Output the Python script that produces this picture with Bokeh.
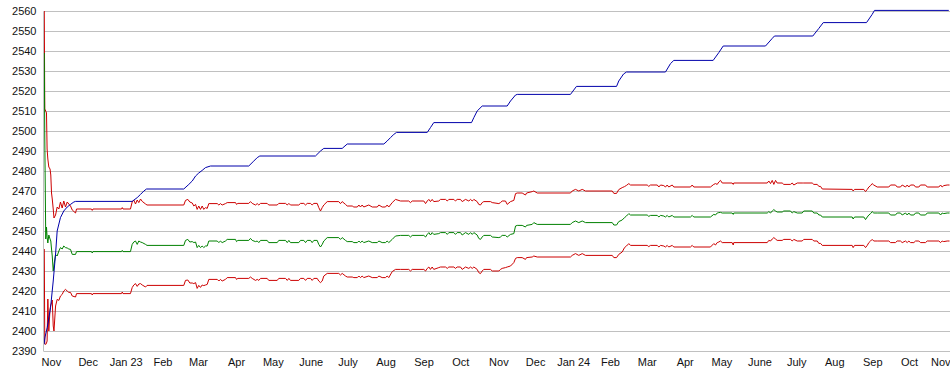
import pandas as pd
from bokeh.plotting import figure
from bokeh.models import Range1d, FixedTicker
from bokeh.embed import file_html
from bokeh.resources import INLINE

# ---------------- data ----------------
start_date = "2022-11-01"   # day 0 of the x axis

month_labels = ["Nov", "Dec", "Jan 23", "Feb", "Mar", "Apr", "May", "June", "July",
                "Aug", "Sep", "Oct", "Nov", "Dec", "Jan 24", "Feb", "Mar", "Apr",
                "May", "June", "July", "Aug", "Sep", "Oct", "Nov"]

y_ticks = list(range(2390, 2561, 10))

# staircase (blue) series: day since start, value
blue_day = [9.0, 9.8, 11.6, 14.3, 16.5, 18.4, 19.7, 22.4, 25.1, 27.9, 30.6, 33.3, 34.7,
            80.9, 85.0, 87.7, 90.4, 92.6, 123.0, 127.1, 129.9, 132.6, 135.2, 138.0, 140.7,
            144.8, 176.0, 180.1, 182.9, 185.0, 230.4, 234.5, 237.2, 252.2, 256.3, 286.2,
            288.9, 291.6, 294.3, 296.5, 321.6, 324.2, 326.9, 357.7, 359.6, 362.3, 366.4,
            386.8, 389.5, 393.6, 395.0, 438.4, 443.3, 476.0, 477.8, 481.7, 484.1, 515.9,
            520.0, 522.7, 554.8, 559.4, 563.0, 597.5, 603.0, 604.8, 636.1, 641.0, 644.6,
            679.9, 684.5, 686.4, 747.0]
blue_val = [2393.3, 2397, 2401.7, 2411.6, 2425, 2438.5, 2450, 2456.7, 2460, 2462, 2463.3,
            2464.5, 2464.8, 2464.8, 2466.7, 2468.3, 2470, 2471, 2471, 2473.3, 2475, 2477.5,
            2479, 2480.3, 2481.7, 2482.5, 2482.5, 2485, 2486.7, 2487.5, 2487.5, 2490, 2491.3,
            2491.3, 2493.5, 2493.5, 2495, 2496.7, 2498.3, 2499.3, 2499.3, 2501.7, 2504.2,
            2504.2, 2506.7, 2510, 2512.5, 2512.5, 2515, 2518, 2518.3, 2518.3, 2522.3, 2522.3,
            2525, 2528.5, 2529.5, 2529.5, 2533.7, 2535.3, 2535.3, 2539.2, 2542.5, 2542.5,
            2546.3, 2547.5, 2547.5, 2551.3, 2554.2, 2554.2, 2558.3, 2560.3, 2560.3]

# band series (upper red, green, lower red) share the same days
band_day = [9.2, 9.6, 10.4, 11.0, 11.5, 12.1, 12.9, 13.9, 14.5, 15.1, 15.7, 16.5, 17.1,
            18.4, 19.7, 21.1, 22.4, 23.8, 25.1, 26.5, 27.9, 29.2, 30.6, 32.0, 34.7, 35.5,
            47.7, 48.3, 48.9, 72.2, 72.8, 73.4, 79.5, 80.9, 82.2, 83.6, 85.0, 86.3, 87.7,
            89.1, 91.8, 93.0, 123.0, 124.4, 126.3, 127.9, 129.9, 131.2, 132.6, 133.9, 135.2,
            136.6, 138.0, 139.3, 140.7, 142.1, 143.4, 150.3, 151.6, 152.9, 154.3, 157.0,
            158.4, 165.2, 166.0, 167.1, 176.0, 177.4, 178.8, 181.5, 182.9, 184.2, 185.6,
            191.0, 192.3, 199.2, 200.5, 206.0, 207.4, 208.7, 210.0, 216.8, 218.2, 220.9,
            222.3, 223.7, 226.4, 227.7, 229.1, 231.8, 233.1, 234.5, 235.9, 237.2, 240.0,
            249.4, 250.8, 252.2, 254.9, 256.3, 260.4, 261.7, 264.5, 265.8, 267.1, 268.5,
            269.8, 273.9, 276.7, 280.8, 282.1, 284.8, 287.5, 288.9, 290.2, 293.0, 295.7,
            299.8, 306.5, 307.9, 309.3, 318.8, 320.2, 321.6, 322.9, 324.2, 325.6, 326.9,
            331.0, 332.4, 336.5, 337.9, 339.2, 343.3, 344.6, 346.0, 348.7, 350.1, 352.8,
            355.5, 356.9, 358.3, 359.6, 362.3, 363.6, 365.0, 366.4, 367.7, 373.2, 374.6,
            380.0, 381.3, 382.7, 385.4, 386.8, 389.5, 392.2, 393.6, 395.0, 399.0, 401.7,
            402.6, 407.2, 408.5, 411.3, 438.4, 439.8, 442.5, 445.2, 448.0, 450.7, 472.5,
            473.8, 476.0, 477.8, 480.6, 482.5, 484.1, 486.0, 487.4, 501.0, 502.3, 503.7,
            509.2, 510.5, 511.9, 514.5, 515.9, 517.3, 518.6, 521.4, 522.7, 536.3, 537.7,
            539.0, 552.6, 555.3, 556.7, 558.1, 559.4, 560.8, 562.2, 570.3, 571.2, 571.6,
            598.9, 600.2, 601.6, 603.0, 604.3, 605.7, 607.0, 611.1, 612.4, 617.9, 619.3,
            620.6, 623.4, 627.4, 628.7, 635.6, 636.9, 639.7, 641.0, 642.4, 643.8, 668.2,
            669.0, 670.1, 677.7, 679.1, 680.5, 681.8, 683.2, 684.5, 685.8, 688.6, 698.1,
            699.5, 703.5, 704.9, 707.6, 709.0, 711.7, 713.1, 714.4, 715.8, 718.5, 719.9,
            722.6, 723.9, 728.0, 729.4, 738.9, 740.3, 741.6, 742.9, 745.7, 747.6]

upper_val = [2560, 2511, 2510, 2509, 2491, 2486, 2482, 2481, 2478, 2469, 2466, 2461, 2456.5,
             2458, 2462, 2461, 2464.5, 2461.5, 2465, 2462, 2464.5, 2463.5, 2462.5, 2460.5,
             2459, 2461, 2461, 2460.3, 2461, 2461, 2461.7, 2461, 2461, 2464.5, 2465.5,
             2463.5, 2465.5, 2464.2, 2466, 2464.8, 2463.5, 2463, 2463, 2465.3, 2465.8,
             2464.5, 2464, 2462.5, 2463.3, 2460.8, 2462.5, 2460.8, 2462.5, 2460.8, 2461.7,
             2461.3, 2463.7, 2463.7, 2463, 2463.7, 2463, 2463.7, 2464.2, 2464.2, 2463.3,
             2463.8, 2463.8, 2464.7, 2463.8, 2463, 2463.7, 2463, 2463.8, 2463.8, 2463,
             2463, 2463.8, 2463.8, 2463, 2463.8, 2463, 2463, 2463.8, 2463.8, 2463, 2463.8,
             2463.8, 2463, 2463.8, 2463.8, 2461.7, 2460, 2461.7, 2463, 2464.7, 2464.7,
             2463.7, 2464.7, 2463.3, 2462.5, 2462.5, 2462, 2462, 2463, 2462, 2463, 2462,
             2463, 2462, 2462, 2463, 2462, 2462, 2463, 2462, 2464.2, 2465.8, 2465, 2465,
             2464.2, 2465, 2465, 2463.7, 2465, 2465.8, 2464.7, 2465.8, 2464.7, 2465,
             2465.8, 2465.8, 2465, 2465.8, 2465.8, 2465, 2465.8, 2465.8, 2464.7, 2465.8,
             2465, 2465.8, 2465, 2465.8, 2464.7, 2463.3, 2463, 2464.2, 2464.7, 2464.7,
             2464.2, 2463.7, 2464.2, 2465, 2465, 2463.3, 2464.7, 2465.3, 2468.7, 2469,
             2469, 2468, 2469, 2469.7, 2470, 2469, 2469, 2470, 2470.8, 2470, 2470.8, 2470,
             2470, 2468.8, 2468.8, 2470.7, 2471.7, 2472.2, 2472.8, 2473.7, 2473, 2473,
             2472.3, 2473, 2473, 2472, 2473, 2472.7, 2472, 2473, 2472, 2473, 2472, 2472,
             2473, 2472, 2472, 2473.3, 2473.7, 2473.3, 2474.5, 2475.3, 2474, 2474, 2473.3,
             2474, 2474, 2475, 2473.7, 2475.3, 2473.3, 2475.3, 2474, 2474, 2473.3, 2473.3,
             2474, 2473, 2474, 2474, 2474, 2474, 2473.3, 2473.3, 2472.3, 2472.3, 2471,
             2470.8, 2470, 2470.8, 2470.8, 2469.7, 2470.8, 2472, 2472.7, 2473.7, 2473,
             2472, 2472, 2473, 2473, 2472, 2472, 2473, 2472, 2473, 2472, 2473, 2473, 2472,
             2472, 2473, 2473, 2472, 2472, 2473, 2472, 2472.7, 2473, 2473]

green_val = [2539, 2497, 2446, 2452, 2447, 2444, 2448, 2446, 2445, 2441, 2437.5, 2430, 2433,
             2438.3, 2437.5, 2440, 2441.7, 2441, 2442.5, 2441.7, 2441.5, 2441, 2440.8,
             2438.3, 2438.3, 2439.7, 2439.7, 2439, 2439.7, 2439.7, 2440.3, 2439.7, 2439.7,
             2443.3, 2444.5, 2445, 2443.3, 2445, 2444.5, 2444.2, 2443.3, 2442.8, 2442.8,
             2445.3, 2445.8, 2444.5, 2444.7, 2444.2, 2444.5, 2441.7, 2442.8, 2441.7, 2442.5,
             2441.7, 2442.5, 2442.5, 2445, 2445, 2444.2, 2445, 2444.2, 2445, 2445.8, 2445.8,
             2444.7, 2445.3, 2445.3, 2446.3, 2445.3, 2444.7, 2445, 2444.2, 2445.3, 2445.3,
             2444.2, 2444.2, 2445.3, 2445.3, 2444.2, 2445.3, 2444.2, 2444.2, 2445.3, 2445.3,
             2444.2, 2445.3, 2445.3, 2444.2, 2445.3, 2445.3, 2443.3, 2442, 2443.3, 2445,
             2446.7, 2446.7, 2445.8, 2446.7, 2445.3, 2444.7, 2444.7, 2444.2, 2444.2, 2445,
             2444.2, 2445, 2444.2, 2445, 2444.2, 2444.2, 2445, 2444.2, 2444.2, 2445, 2444.2,
             2445.8, 2447.5, 2447.8, 2447.8, 2447, 2447.8, 2447.8, 2447, 2448.3, 2449.2,
             2448, 2449.2, 2448.3, 2448.7, 2449.2, 2449.2, 2448.3, 2449.2, 2449.2, 2448.3,
             2449.2, 2449.2, 2448, 2449.2, 2448.3, 2449.2, 2448.3, 2449.2, 2448, 2446.3,
             2445.8, 2447, 2447.8, 2447.8, 2447, 2446.7, 2447, 2447.8, 2447.8, 2447, 2448.3,
             2448.7, 2452.5, 2452.8, 2452.8, 2452, 2452.8, 2453.3, 2454.2, 2453.3, 2453.3,
             2454.2, 2455, 2454.2, 2455, 2454.2, 2454.2, 2453, 2453, 2454.7, 2455.5, 2456.7,
             2457.5, 2458.7, 2458, 2458, 2457.3, 2457.8, 2457.8, 2457, 2457.8, 2457.5, 2457,
             2457.8, 2457, 2457.8, 2457, 2457, 2457.8, 2457, 2457, 2458.3, 2458, 2459,
             2459.2, 2459.3, 2459, 2459, 2458.3, 2459, 2459, 2459.7, 2459, 2460, 2460.7,
             2460, 2459.5, 2459.5, 2460, 2460, 2459, 2459.7, 2459, 2459, 2460, 2460, 2459,
             2459, 2458, 2458, 2457, 2457, 2456, 2457, 2457, 2455.7, 2457, 2458, 2458.7,
             2459.7, 2459, 2459, 2459, 2458, 2458, 2459, 2459, 2458, 2459, 2458, 2459, 2458,
             2458, 2459, 2459, 2458, 2458, 2459, 2459, 2458, 2459, 2458.7, 2459, 2459]

lower_val = [2441, 2393.5, 2393.3, 2394, 2395, 2416, 2400, 2411, 2413, 2414, 2415.5, 2402.5,
             2400, 2412.5, 2415.8, 2415.3, 2417.5, 2418.3, 2420, 2420.8, 2420, 2419.3,
             2419.3, 2417.5, 2417, 2418.7, 2418.7, 2418, 2418.7, 2418.7, 2419.5, 2418.7,
             2418.7, 2421.7, 2423, 2423.7, 2422.3, 2423.5, 2423.7, 2423, 2422, 2422.8,
             2422.8, 2425.3, 2425.5, 2424, 2424, 2423.7, 2424.2, 2421.3, 2422.8, 2421.8,
             2423, 2422.7, 2423, 2423.3, 2425.8, 2425.8, 2425, 2425.8, 2425, 2425.8, 2426.7,
             2426.7, 2425.8, 2426.3, 2426.3, 2427, 2426.3, 2425.3, 2425.8, 2425.3, 2426.3,
             2426.3, 2425.3, 2425.3, 2426.3, 2426.3, 2425.3, 2426.3, 2425.3, 2425.3, 2426.3,
             2426.3, 2425.3, 2426.3, 2426.3, 2425.3, 2426.3, 2426.3, 2425, 2424.2, 2425,
             2427.5, 2428.8, 2428.8, 2428, 2428.8, 2427.5, 2427, 2427, 2426.7, 2426.7,
             2427.5, 2426.7, 2427.5, 2426.7, 2427.5, 2426.7, 2426.7, 2427.5, 2426.7, 2426.7,
             2427.5, 2426.7, 2429.7, 2430.8, 2430.8, 2430.8, 2430, 2430.8, 2430.8, 2430,
             2431.3, 2432, 2430.8, 2432, 2430.8, 2431.7, 2432, 2432, 2431.3, 2432, 2432,
             2431.3, 2432, 2432, 2430.8, 2432, 2431.3, 2432, 2431.3, 2432, 2430.8, 2429.2,
             2428.7, 2430, 2430.8, 2430.8, 2430, 2430, 2430.8, 2431.3, 2431.7, 2432, 2432.5,
             2434.2, 2436.3, 2436.7, 2436.7, 2435.8, 2436.7, 2437, 2437.5, 2437, 2437,
             2437.8, 2438.7, 2437.8, 2438.7, 2437.8, 2437.8, 2436.7, 2436.7, 2438.3, 2439.5,
             2441.7, 2442.5, 2443.7, 2442.8, 2442.8, 2442.2, 2442.8, 2442.8, 2442, 2442.8,
             2442.5, 2442, 2442.8, 2442, 2442.8, 2442, 2442, 2442.8, 2442, 2442, 2443.7,
             2443, 2444.2, 2444.5, 2445, 2444.2, 2444.2, 2443, 2444.2, 2444.2, 2445.3, 2445,
             2446, 2446.7, 2446, 2445.3, 2445.3, 2445.8, 2445.8, 2445, 2445.8, 2445, 2445,
             2445.8, 2445.8, 2445, 2445, 2443.8, 2443.8, 2442.8, 2442.8, 2441.7, 2442.8,
             2442.8, 2441.7, 2442.8, 2444.2, 2445, 2445.8, 2445, 2445, 2445, 2444.2, 2444.2,
             2445, 2445, 2444.2, 2445, 2444.2, 2445, 2444.2, 2444.2, 2445, 2445, 2444.2,
             2444.2, 2445, 2445, 2444.2, 2445, 2444.7, 2445, 2445]

# ---------------- ticks ----------------
start = pd.Timestamp(start_date)
month_starts = pd.date_range(start_date, periods=len(month_labels), freq="MS")
mid_days = [int((m - start).days + m.days_in_month // 2) for m in month_starts]

# ---------------- figure ----------------
p = figure(width=950, height=375, output_backend="svg", toolbar_location=None,
           title=None,
           x_range=Range1d(8.56, 748.4), y_range=Range1d(2389.25, 2564.25),
           min_border_left=43, min_border_right=0, min_border_top=2, min_border_bottom=23)
p.outline_line_color = None
p.background_fill_color = "white"
p.border_fill_color = "white"

p.xgrid.visible = False
p.ygrid.ticker = FixedTicker(ticks=y_ticks)
p.ygrid.grid_line_color = "#c0c0c0"
p.ygrid.grid_line_width = 1

p.yaxis.ticker = FixedTicker(ticks=y_ticks)
p.yaxis.major_tick_line_color = None
p.yaxis.minor_tick_line_color = None
p.yaxis.major_tick_out = 0
p.yaxis.major_tick_in = 0
p.yaxis.axis_line_color = "#c0c0c0"
p.yaxis.bounds = (2390, 2560)
p.yaxis.major_label_standoff = 7
p.yaxis.major_label_text_font = "Liberation Sans"
p.yaxis.major_label_text_font_size = "11px"
p.yaxis.major_label_text_color = "#111111"

p.xaxis.ticker = FixedTicker(ticks=mid_days)
p.xaxis.major_label_overrides = {d: lab for d, lab in zip(mid_days, month_labels)}
p.xaxis.major_tick_line_color = None
p.xaxis.minor_tick_line_color = None
p.xaxis.major_tick_out = 0
p.xaxis.major_tick_in = 0
p.xaxis.axis_line_color = None
p.xaxis.major_label_standoff = 3
p.xaxis.major_label_text_font = "Liberation Sans"
p.xaxis.major_label_text_font_size = "11px"
p.xaxis.major_label_text_color = "#111111"

p.line(band_day, upper_val, line_color="#cc0000", line_width=1)
p.line(band_day, green_val, line_color="#008000", line_width=1)
p.line(band_day, lower_val, line_color="#cc0000", line_width=1)
p.line(blue_day, blue_val, line_color="#0000aa", line_width=1)

open("out.html", "w").write(file_html(p, INLINE))
